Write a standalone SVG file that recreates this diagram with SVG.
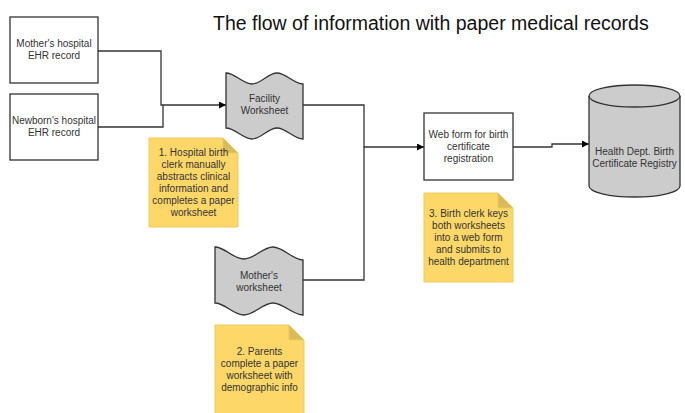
<svg xmlns="http://www.w3.org/2000/svg" width="685" height="413" viewBox="0 0 685 413">
<defs>
<style>
text{font-family:"Liberation Sans",Arial,sans-serif;font-size:10px;fill:#333;text-anchor:middle}
.title{font-size:19.5px;fill:#111;text-anchor:start}
.box{fill:#fff;stroke:#333;stroke-width:1.3}
.gray{fill:#ccc;stroke:#333;stroke-width:1.3}
.note{fill:#fdd869;stroke:#eccb5e;stroke-width:1}
.fold{fill:#d9bb58;stroke:#eccb5e;stroke-width:1}
.conn{fill:none;stroke:#333;stroke-width:1.3}
</style>
<marker id="arr" viewBox="0 0 10 10" refX="10" refY="5" markerWidth="9" markerHeight="7" markerUnits="userSpaceOnUse" orient="auto">
<path d="M0,0 L10,5 L0,10 Z" fill="#000"/>
</marker>
</defs>
<rect width="685" height="413" fill="#fff"/>
<text class="title" x="213" y="30">The flow of information with paper medical records</text>

<g id="connectors">
<path class="conn" d="M98,51 H161 V105 H226" marker-end="url(#arr)"/>
<path class="conn" d="M98,127 H163 V105"/>
<path class="conn" d="M303,105 H364 V147 H424" marker-end="url(#arr)"/>
<path class="conn" d="M303,280 H364 V147"/>
<path class="conn" d="M513,147 H552 V144 H589" marker-end="url(#arr)"/>
</g>

<g id="mother-ehr">
<rect class="box" x="10" y="17" width="88" height="66"/>
<text x="54" y="47">Mother's hospital</text>
<text x="54" y="59">EHR record</text>
</g>

<g id="newborn-ehr">
<rect class="box" x="10" y="94" width="88" height="66"/>
<text x="54" y="124">Newborn's hospital</text>
<text x="54" y="136">EHR record</text>
</g>

<g id="facility-worksheet">
<path class="gray" d="M226,73 C235,73 243,84 252,84 C261,84 268,73 277,73 C286,73 294,84 303,84 L303,139 C294,139 286,128 277,128 C268,128 261,139 252,139 C243,139 235,128 226,128 Z"/>
<text x="264.5" y="101.5">Facility</text>
<text x="264.5" y="113.5">Worksheet</text>
</g>

<g id="mothers-worksheet">
<path class="gray" d="M215,247 C225,247 233,259 244,259 C254,259 263,247 273,247 C283,247 293,260 303,260 L303,315 C293,315 283,303 273,303 C263,303 254,315 244,315 C233,315 225,303 215,303 Z"/>
<text x="259" y="278.5">Mother's</text>
<text x="259" y="290.5">worksheet</text>
</g>

<g id="web-form">
<rect class="box" x="424" y="113" width="89" height="67"/>
<text x="468.5" y="137.5">Web form for birth</text>
<text x="468.5" y="149.5">certificate</text>
<text x="468.5" y="161.5">registration</text>
</g>

<g id="registry">
<path class="gray" d="M589,96 V186 A45.5,11 0 0 0 680,186 V96"/>
<ellipse class="gray" cx="634.5" cy="96" rx="45.5" ry="11"/>
<text x="634.5" y="154.5">Health Dept. Birth</text>
<text x="634.5" y="166.5">Certificate Registry</text>
</g>

<g id="note1">
<path class="note" d="M149,138 H223 L238,153 V227 H149 Z"/>
<path class="fold" d="M223,138 L238,153 H223 Z"/>
<text x="193.5" y="155.5">1. Hospital birth</text>
<text x="193.5" y="167.5">clerk manually</text>
<text x="193.5" y="179.5">abstracts clinical</text>
<text x="193.5" y="191.5">information and</text>
<text x="193.5" y="203.5">completes a paper</text>
<text x="193.5" y="215.5">worksheet</text>
</g>

<g id="note2">
<path class="note" d="M215,325 H289 L304,340 V420 H215 Z"/>
<path class="fold" d="M289,325 L304,340 H289 Z"/>
<text x="259.5" y="354.5">2. Parents</text>
<text x="259.5" y="366.5">complete a paper</text>
<text x="259.5" y="378.5">worksheet with</text>
<text x="259.5" y="390.5">demographic info</text>
</g>

<g id="note3">
<path class="note" d="M424,193 H498 L513,208 V282 H424 Z"/>
<path class="fold" d="M498,193 L513,208 H498 Z"/>
<text x="468.5" y="216.5">3. Birth clerk keys</text>
<text x="468.5" y="228.5">both worksheets</text>
<text x="468.5" y="240.5">into a web form</text>
<text x="468.5" y="252.5">and submits to</text>
<text x="468.5" y="264.5">health department</text>
</g>
</svg>
